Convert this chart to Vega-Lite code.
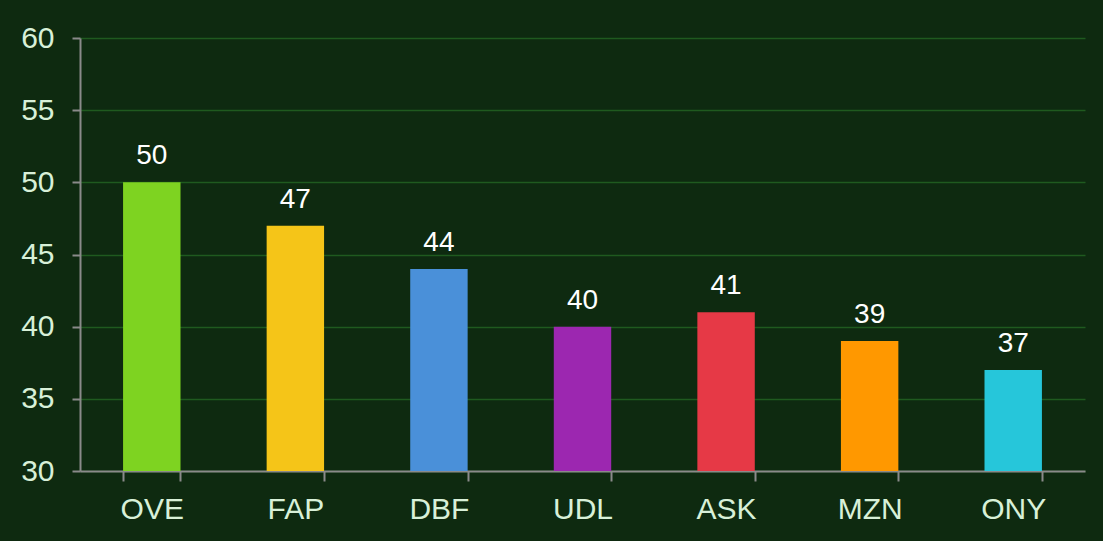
{
  "$schema": "https://vega.github.io/schema/vega-lite/v6.json",
  "width": 1005,
  "height": 433,
  "autosize": {"type": "none"},
  "padding": {"left": 80, "top": 38, "right": 18, "bottom": 70},
  "background": "#0e2a10",
  "config": {
    "view": {"stroke": null},
    "font": "Liberation Sans"
  },
  "data": {
    "values": [
      {"code": "OVE", "value": 50},
      {"code": "FAP", "value": 47},
      {"code": "DBF", "value": 44},
      {"code": "UDL", "value": 40},
      {"code": "ASK", "value": 41},
      {"code": "MZN", "value": 39},
      {"code": "ONY", "value": 37}
    ]
  },
  "encoding": {
    "x": {
      "field": "code",
      "type": "nominal",
      "sort": null,
      "scale": {"paddingInner": 0.6, "paddingOuter": 0.3},
      "axis": {
        "title": null,
        "labelAngle": 0,
        "labelFont": "Liberation Sans",
        "labelFontSize": 30,
        "labelColor": "#d8f0d8",
        "labelPadding": 13,
        "tickBand": "extent",
        "tickSize": 10,
        "tickColor": "#8a8a8a",
        "tickWidth": 2,
        "domainColor": "#8a8a8a",
        "domainWidth": 2,
        "grid": false
      }
    },
    "y": {
      "field": "value",
      "type": "quantitative",
      "scale": {"domain": [30, 60], "nice": false, "zero": false},
      "axis": {
        "title": null,
        "values": [30, 35, 40, 45, 50, 55, 60],
        "labelFont": "Liberation Sans",
        "labelFontSize": 30,
        "labelColor": "#d8f0d8",
        "labelPadding": 18,
        "tickSize": 8,
        "tickColor": "#8a8a8a",
        "tickWidth": 2,
        "domainColor": "#8a8a8a",
        "domainWidth": 2,
        "grid": true,
        "gridColor": "#1f5a1f",
        "gridWidth": 1.5
      }
    }
  },
  "layer": [
    {
      "mark": {"type": "bar"},
      "encoding": {
        "y2": {"datum": 30},
        "color": {
          "field": "code",
          "type": "nominal",
          "sort": null,
          "legend": null,
          "scale": {
            "domain": ["OVE", "FAP", "DBF", "UDL", "ASK", "MZN", "ONY"],
            "range": ["#7ed321", "#f5c518", "#4a90d9", "#9c27b0", "#e63946", "#ff9800", "#26c6da"]
          }
        }
      }
    },
    {
      "mark": {"type": "text", "baseline": "bottom", "dy": -12, "fontSize": 28, "color": "#ffffff", "font": "Liberation Sans"},
      "encoding": {"text": {"field": "value", "type": "quantitative"}}
    }
  ]
}
